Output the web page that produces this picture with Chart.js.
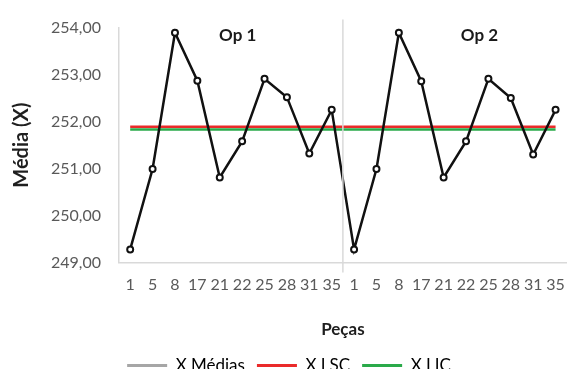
<!DOCTYPE html>
<html>
<head>
<meta charset="utf-8">
<script src="https://cdn.jsdelivr.net/npm/chart.js@4/dist/chart.umd.min.js"></script>
<style>
  html, body { margin: 0; padding: 0; background: #ffffff; }
  #wrap { width: 578px; height: 369px; }
</style>
</head>
<body>
<div id="wrap"><canvas id="chart" width="578" height="369"></canvas></div>
<script>
// Peças amostradas (duas operações, 10 peças cada)
const categories = ['1', '5', '8', '17', '21', '22', '25', '28', '31', '35',
                    '1', '5', '8', '17', '21', '22', '25', '28', '31', '35'];
const groups = ['Op 1', 'Op 2'];
const groupSize = 10;

// Médias das amostras
const xMedias = [249.28, 250.99, 253.89, 252.87, 250.81, 251.58, 252.91, 252.52, 251.32, 252.25,
                 249.28, 250.99, 253.89, 252.86, 250.81, 251.58, 252.91, 252.50, 251.30, 252.25];
// Limites de controle
const xLSC = [251.89, 251.89, 251.89, 251.89, 251.89, 251.89, 251.89, 251.89, 251.89, 251.89,
              251.89, 251.89, 251.89, 251.89, 251.89, 251.89, 251.89, 251.89, 251.89, 251.89];
const xLIC = [251.83, 251.83, 251.83, 251.83, 251.83, 251.83, 251.83, 251.83, 251.83, 251.83,
              251.83, 251.83, 251.83, 251.83, 251.83, 251.83, 251.83, 251.83, 251.83, 251.83];

const yMin = 249, yMax = 254, yStep = 1;

const FONT = 'Lato, "Open Sans", "Liberation Sans", sans-serif';
const legendColors = ['#a6a6a6', '#ea2a2a', '#2aaa4a'];

// Separador entre operações e rótulos "Op 1" / "Op 2"
const groupPlugin = {
  id: 'groupPlugin',
  afterDatasetsDraw(chart) {
    const x = chart.scales.x;
    const area = chart.chartArea;
    const ctx = chart.ctx;
    const step = x.getPixelForValue(1) - x.getPixelForValue(0);
    ctx.save();
    for (let g = 1; g < groups.length; g++) {
      const sx = (x.getPixelForValue(g * groupSize - 1) + x.getPixelForValue(g * groupSize)) / 2;
      ctx.strokeStyle = '#d9d9d9';
      ctx.lineWidth = 1.5;
      ctx.beginPath();
      ctx.moveTo(sx, area.top - 8);
      ctx.lineTo(sx, area.bottom + 10);
      ctx.stroke();
    }
    // caixas de texto ligeiramente à direita do centro de cada grupo
    const shift = [3.8, 4.6];
    ctx.fillStyle = '#1a1a1a';
    ctx.font = 'bold 17px ' + FONT;
    ctx.textAlign = 'center';
    ctx.textBaseline = 'middle';
    groups.forEach((name, g) => {
      const px = x.getPixelForValue(g * groupSize) + shift[g] * step + step;
      ctx.fillText(name, px, area.top + 8);
    });
    ctx.restore();
  }
};

new Chart(document.getElementById('chart'), {
  type: 'line',
  data: {
    labels: categories,
    datasets: [
      {
        label: 'X Médias',
        data: xMedias,
        borderColor: '#111111',
        backgroundColor: '#ffffff',
        borderWidth: 2.5,
        pointRadius: 3,
        pointBorderWidth: 2,
        pointBorderColor: '#111111',
        pointBackgroundColor: '#ffffff',
        tension: 0,
        order: 0
      },
      {
        label: 'X LSC',
        data: xLSC,
        borderColor: '#ea2a2a',
        backgroundColor: '#ea2a2a',
        borderWidth: 2.5,
        pointRadius: 0,
        tension: 0,
        order: 2
      },
      {
        label: 'X LIC',
        data: xLIC,
        borderColor: '#2aaa4a',
        backgroundColor: '#2aaa4a',
        borderWidth: 2.5,
        pointRadius: 0,
        tension: 0,
        order: 1
      }
    ]
  },
  options: {
    responsive: false,
    animation: false,
    devicePixelRatio: 1,
    layout: { padding: { left: 0, right: 0, top: 26, bottom: -15 } },
    plugins: {
      tooltip: { enabled: false },
      legend: {
        display: true,
        position: 'bottom',
        labels: {
          boxWidth: 40,
          boxHeight: 3,
          padding: 12,
          color: '#404040',
          font: { family: FONT, size: 17 },
          generateLabels(chart) {
            return chart.data.datasets.map((ds, i) => ({
              text: ds.label,
              fillStyle: legendColors[i],
              strokeStyle: legendColors[i],
              lineWidth: 0,
              hidden: false,
              datasetIndex: i
            }));
          }
        }
      }
    },
    scales: {
      x: {
        type: 'category',
        offset: true,
        grid: { display: false, drawTicks: false },
        border: { display: true, color: '#d9d9d9', width: 1.5 },
        ticks: {
          autoSkip: false,
          maxRotation: 0,
          minRotation: 0,
          padding: 13,
          color: '#595959',
          font: { family: FONT, size: 16 }
        },
        title: {
          display: true,
          text: 'Peças',
          color: '#1f1f1f',
          font: { family: FONT, size: 17, weight: 'bold' },
          padding: { top: 12, bottom: 4.8 }
        }
      },
      y: {
        min: yMin,
        max: yMax,
        grid: { display: false, drawTicks: false },
        border: { display: true, color: '#d9d9d9', width: 1.5 },
        afterFit(scale) { scale.width = 119; },
        ticks: {
          stepSize: yStep,
          padding: 18,
          color: '#595959',
          font: { family: FONT, size: 16 },
          callback: (v) => v.toFixed(2).replace('.', ',')
        },
        title: {
          display: true,
          text: 'Média (X)',
          color: '#1f1f1f',
          font: { family: FONT, size: 20, weight: 'bold' },
          padding: { top: 10, bottom: 0 }
        }
      }
    }
  },
  plugins: [groupPlugin]
});
</script>
</body>
</html>
